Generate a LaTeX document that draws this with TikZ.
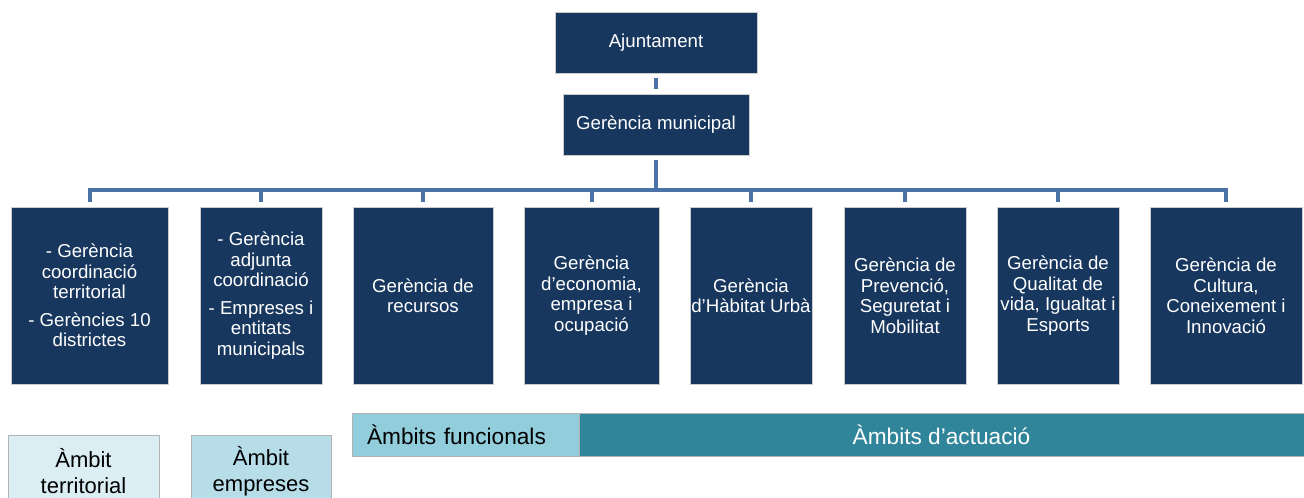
\documentclass[tikz,border=0pt]{standalone}
\usepackage{fontspec}
\setmainfont{Liberation Sans}
\definecolor{navy}{RGB}{23,55,94}
\definecolor{linkblue}{RGB}{74,114,166}
\definecolor{paleblue}{RGB}{218,238,243}
\definecolor{lightblue}{RGB}{183,222,232}
\definecolor{midblue}{RGB}{146,205,220}
\definecolor{tealblue}{RGB}{49,133,155}

\begin{document}
\begin{tikzpicture}[x=0.75pt,y=-0.75pt,
    gbox/.style={draw=black!20,fill=navy,text=white,inner sep=0pt,align=center,font=\fontsize{14}{15.4}\selectfont},
    gerbox/.style={gbox,minimum height=132.75pt},
    link/.style={draw=linkblue,line width=3pt,shorten <=3.5pt,shorten >=3.5pt},
    band/.style={draw=black!30,minimum height=32.25pt,inner ysep=0pt,font=\fontsize{17}{20}\selectfont},
    tag/.style={draw=black!30,minimum height=54pt,inner sep=0pt,align=center,font=\fontsize{16.5}{19.5}\selectfont}]
      \clip (0,0) rectangle (1304,497);

      \draw (656,42.5) node[gbox,minimum width=151.5pt,minimum height=45.75pt](aj) {Ajuntament};
      \draw (656,124.5) node[gbox,minimum width=139.5pt,minimum height=45.75pt](gm) {Gerència municipal};

      \draw (89.5,295.5) node[gerbox,minimum width=117.75pt](g1) {- Gerència\\coordinació\\territorial\\[5pt]- Gerències 10\\districtes};
      \draw (261,295.5) node[gerbox,minimum width=91.5pt](g2) {- Gerència\\adjunta\\coordinació\\[5pt]- Empreses i\\entitats\\municipals};
      \draw (423,295.5) node[gerbox,minimum width=105pt](g3) {Gerència de\\recursos};
      \draw (591.5,295.5) node[gerbox,minimum width=101.25pt](g4) {Gerència\\d’economia,\\empresa i\\ocupació};
      \draw (751,295.5) node[gerbox,minimum width=91.5pt](g5) {Gerència\\d’Hàbitat Urbà};
      \draw (905,295.5) node[gerbox,minimum width=91.5pt](g6) {Gerència de\\Prevenció,\\Seguretat i\\Mobilitat};
      \draw (1058,295.5) node[gerbox,minimum width=91.5pt](g7) {Gerència de\\Qualitat de\\vida, Igualtat i\\Esports};
      \draw (1226,295.5) node[gerbox,minimum width=114pt](g8) {Gerència de\\Cultura,\\Coneixement i\\Innovació};

      \coordinate (bus) at (656,190);
      \draw[link] (aj.south) -- (gm.north);
      \foreach \g in {g1,g2,g3,g4,g5,g6,g7,g8}
        \draw[link] (gm.south) -- (bus) -| (\g.north);

      \draw (465.5,434.5) node[band,fill=midblue,text width=147.75pt,inner xsep=11.25pt,align=left](fn) {Àmbits funcionals};
      \draw (941.5,434.5) node[band,fill=tealblue,text=white,minimum width=543.75pt,inner xsep=0pt](ac) {Àmbits d’actuació};

      \draw (83.5,471) node[tag,fill=paleblue,minimum width=113.25pt](at) {Àmbit\\territorial};
      \draw (261,471) node[tag,fill=lightblue,minimum width=105pt](ae) {Àmbit\\empreses};
    \end{tikzpicture}
\end{document}
